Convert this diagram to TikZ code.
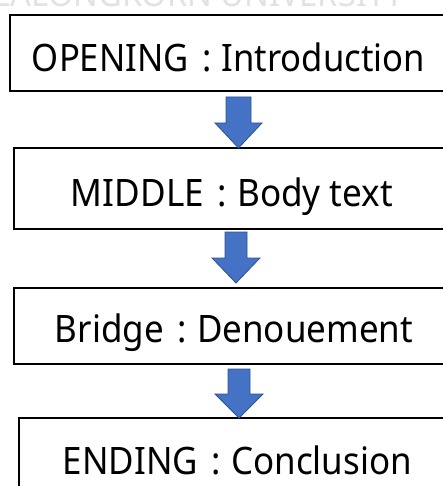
\documentclass[tikz,border=0pt]{standalone}
\usepackage{fontspec}
\setmainfont{Noto Sans}
\usepackage{graphicx}
\definecolor{arrowfill}{HTML}{4472C4}
\definecolor{arrowedge}{HTML}{2F528F}
\definecolor{wmark}{HTML}{E2E2E2}
\newcommand{\fittext}[2]{\resizebox{#1pt}{\height}{#2}}
\newcommand{\sepcolon}{\hspace{0.38em}:\hspace{0.3em}}
\tikzset{
  box/.style={draw=black, line width=1.6pt, fill=white, anchor=north west, inner sep=0pt},
  label/.style={anchor=base, inner sep=0pt, font=\fontsize{37.8}{40}\selectfont},
  blockarrow/.style={fill=arrowfill, draw=arrowedge, line width=0.8pt, line join=miter}
}
\begin{document}
\begin{tikzpicture}[x=1pt,y=-1pt]
\useasboundingbox (0,0) rectangle (443,486);
\clip (0,0) rectangle (443,486);
% watermark
\node[anchor=base east, inner sep=0pt, text=wmark, font=\bfseries\fontsize{34}{34}\selectfont] (wm) at (404,7) {\fittext{410}{LALONGKORN UNIVERSITY}};
% boxes
\node[box, minimum width=460pt, minimum height=76pt] (b1) at (9,14) {};
\node[box, minimum width=460pt, minimum height=81pt] (b2) at (13,147) {};
\node[box, minimum width=460pt, minimum height=76pt] (b3) at (13,287) {};
\node[box, minimum width=460pt, minimum height=100pt] (b4) at (18,417) {};
% texts
\node[label] (t1) at (228.5,72) {\fittext{393}{OPENING\sepcolon Introduction}};
\node[label] (t2) at (232,206) {\fittext{322}{MIDDLE\sepcolon Body text}};
\node[label] (t3) at (234,342) {\fittext{358}{Bridge\sepcolon Denouement}};
\node[label] (t4) at (237.5,474) {\fittext{349}{ENDING\sepcolon Conclusion}};
% arrows
\coordinate (a1) at (238.5,97);
\coordinate (a2) at (236,232);
\coordinate (a3) at (239,369);
\draw[blockarrow] (a1) ++(-12.5,0) -- ++(25,0) -- ++(0,26) -- ++(11,0) -- ++(-23.5,25) -- ++(-23.5,-25) -- ++(11,0) -- cycle;
\draw[blockarrow] (a2) ++(-11,0) -- ++(22,0) -- ++(0,26) -- ++(13,0) -- ++(-24,25) -- ++(-24,-25) -- ++(13,0) -- cycle;
\draw[blockarrow] (a3) ++(-11,0) -- ++(22,0) -- ++(0,25) -- ++(13,0) -- ++(-24,24) -- ++(-24,-24) -- ++(13,0) -- cycle;
\end{tikzpicture}
\end{document}
